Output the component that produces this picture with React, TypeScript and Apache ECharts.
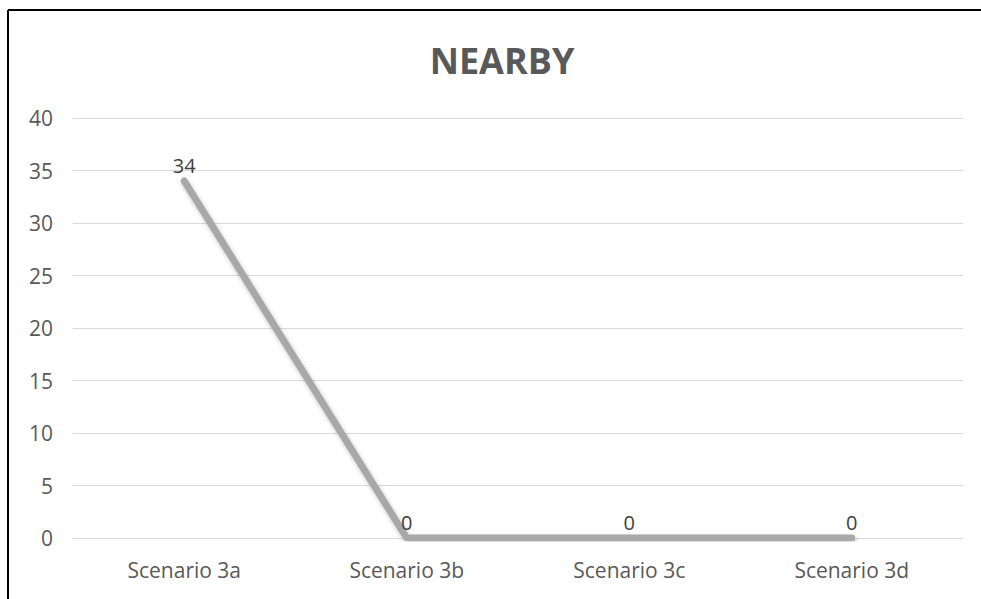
import React, { useEffect, useRef } from "react";
import * as echarts from "echarts";

const categories = ["Scenario 3a", "Scenario 3b", "Scenario 3c", "Scenario 3d"];
const values = [34, 0, 0, 0];
const titleText = "NEARBY";
const yMin = 0;
const yMax = 40;
const yStep = 5;

export default function App() {
  const ref = useRef<HTMLDivElement>(null);
  useEffect(() => {
    if (!ref.current) return;
    const chart = echarts.init(ref.current, null, { renderer: "svg" });
    const font = "'Open Sans', sans-serif";
    chart.setOption({
      animation: false,
      backgroundColor: "#ffffff",
      title: {
        text: titleText,
        left: 497,
        textAlign: "center",
        top: 37,
        textStyle: { fontFamily: font, fontSize: 36, fontWeight: "bold", color: "#595959" },
      },
      grid: { left: 73, right: 18, top: 118, bottom: 61 },
      xAxis: {
        type: "category",
        data: categories,
        boundaryGap: true,
        axisLine: { lineStyle: { color: "#d9d9d9", width: 1 } },
        axisTick: { show: false },
        axisLabel: { fontFamily: font, fontSize: 21, color: "#595959", margin: 21 },
      },
      yAxis: {
        type: "value",
        min: yMin,
        max: yMax,
        interval: yStep,
        axisLine: { show: false },
        axisTick: { show: false },
        splitLine: { lineStyle: { color: "#d9d9d9", width: 1 } },
        axisLabel: { fontFamily: font, fontSize: 21, color: "#595959", margin: 20 },
      },
      series: [
        {
          type: "line",
          data: values,
          symbol: "circle",
          symbolSize: 0,
          lineStyle: {
            color: "#a8a8a8",
            width: 7,
            cap: "round",
            shadowColor: "rgba(0,0,0,0.25)",
            shadowBlur: 4,
            shadowOffsetX: 1,
            shadowOffsetY: 2,
          },
          itemStyle: { color: "#a8a8a8" },
          label: {
            show: true,
            position: "top",
            distance: 6,
            fontFamily: font,
            fontSize: 20,
            color: "#404040",
          },
        },
      ],
      graphic: [
        { type: "line", shape: { x1: 8, y1: 10, x2: 981, y2: 10 }, style: { stroke: "#000", lineWidth: 2 } },
        { type: "line", shape: { x1: 8, y1: 10, x2: 8, y2: 599 }, style: { stroke: "#000", lineWidth: 2 } },
      ],
    });
    return () => chart.dispose();
  }, []);
  return (
    <div
      ref={ref}
      style={{ position: "fixed", left: 0, top: 0, width: 981, height: 599 }}
    />
  );
}
